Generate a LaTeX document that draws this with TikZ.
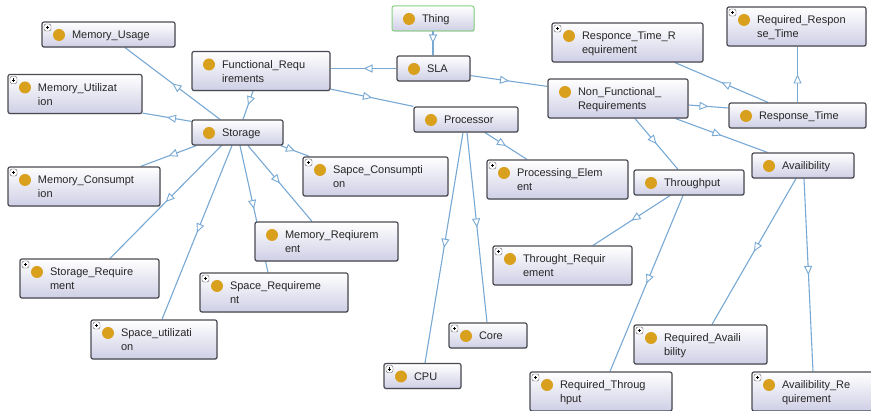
\documentclass[tikz,border=0pt]{standalone}
\usepackage{fontspec}
\setmainfont{Liberation Sans}
\usetikzlibrary{arrows.meta, decorations.markings, backgrounds, shadows}
\definecolor{clsborder}{HTML}{4A4A52}
\definecolor{clsfill}{HTML}{CFCFE6}
\definecolor{clsdot}{HTML}{D9A01E}
\definecolor{clstext}{HTML}{262626}
\definecolor{isablue}{HTML}{78A9D4}
\definecolor{thinggreen}{HTML}{86D182}
\newcommand\clsfont{\fontsize{11}{14}\selectfont}
\newcommand\drawdot{\fill[clsdot] ([xshift=17pt,yshift=-13pt]path picture bounding box.north west) circle[radius=6pt];}
\newcommand\drawplus{
		\draw[line width=0.4pt, draw=gray!70!black, fill=white] ([xshift=2pt,yshift=-2pt]path picture bounding box.north west) rectangle +(7pt,-7pt);
		\draw[line width=0.6pt, black] ([xshift=3.8pt,yshift=-5.5pt]path picture bounding box.north west) -- +(3.4pt,0pt);
		\draw[line width=0.6pt, black] ([xshift=5.5pt,yshift=-3.8pt]path picture bounding box.north west) -- +(0pt,-3.4pt);
		}
\tikzset{owlcls/.style={draw=clsborder, line width=1.2pt, rounded corners=2pt, top color=white, bottom color=clsfill,
		drop shadow={shadow xshift=0.7pt, shadow yshift=-0.9pt, opacity=0.25},
		inner xsep=0pt, inner ysep=5.5pt, minimum height=25pt, align=left, font=\clsfont, text=clstext,
		execute at begin node={\leftskip=30pt\relax\rule{0pt}{11.4pt}},
		execute at end node={\rule[-2.6pt]{0pt}{2.6pt}},
		path picture={\drawdot}}}
\tikzset{owlplus/.style={owlcls, path picture={\drawdot\drawplus}}}
\tikzset{thingcls/.style={draw=thinggreen, line width=1pt}}
\tikzset{isa/.style={isablue, line width=1.1pt, postaction={decorate},
		decoration={markings, mark=at position 0.5 with {\arrow{Triangle[length=9pt, width=8pt, fill=white, line width=0.9pt]}}}}}
\newcommand\isaarr[2]{\draw[isa] (#1) -- (#2);}

\begin{document}
\begin{tikzpicture}[x=1pt, y=-1pt]
			\useasboundingbox (0,0) rectangle (871,411);
			% classes
			\node[owlcls, thingcls, text width=82pt] (thing) at (433,18.5) {Thing};
			\node[owlcls, text width=73pt] (sla) at (433.5,68.5) {SLA};
			\node[owlcls, text width=138pt] (fr) at (261,71) {Functional\_Requ\\irements};
			\node[owlcls, text width=140pt] (nfr) at (618,98.5) {Non\_Functional\_\\Requirements};
			\node[owlcls, text width=91pt] (st) at (237.5,132.5) {Storage};
			\node[owlcls, text width=104pt] (pr) at (466,119.5) {Processor};
			\node[owlcls, text width=137pt] (rt) at (797.5,115.5) {Response\_Time};
			\node[owlcls, text width=110pt] (tp) at (689,182.5) {Throughput};
			\node[owlcls, text width=102pt] (av) at (803,165.5) {Availibility};
			\node[owlcls, text width=143pt] (mrq) at (326.5,241.5) {Memory\_Reqiurem\\ent};
			% leaves
			\node[owlplus, text width=133pt] (mus) at (108.5,34.5) {Memory\_Usage};
			\node[owlplus, text width=134pt] (mut) at (75,94) {Memory\_Utilizat\\ion};
			\node[owlplus, text width=152pt] (mco) at (84,186.5) {Memory\_Consumpt\\ion};
			\node[owlplus, text width=145pt] (sco) at (375.5,176.5) {Sapce\_Consumpti\\on};
			\node[owlplus, text width=139pt] (srq) at (89.5,278.5) {Storage\_Require\\ment};
			\node[owlplus, text width=148pt] (spr) at (274,292.5) {Space\_Requireme\\nt};
			\node[owlplus, text width=126pt] (spu) at (154,339.5) {Space\_utilizati\\on};
			\node[owlplus, text width=141pt] (pe) at (557.5,179.5) {Processing\_Elem\\ent};
			\node[owlplus, text width=77pt] (cpu) at (422.5,376) {CPU};
			\node[owlplus, text width=78pt] (core) at (488,335.5) {Core};
			\node[owlplus, text width=151pt] (rtr) at (627.5,42.5) {Responce\_Time\_R\\equirement};
			\node[owlplus, text width=139pt] (rrt) at (796.5,26.5) {Required\_Respon\\se\_Time};
			\node[owlplus, text width=139pt] (ttr) at (562.5,265.5) {Throught\_Requir\\ement};
			\node[owlplus, text width=142pt] (rtp) at (601,391.5) {Required\_Throug\\hput};
			\node[owlplus, text width=133pt] (rav) at (700.5,344.5) {Required\_Availi\\bility};
			\node[owlplus, text width=128pt] (avr) at (816,391.5) {Availibility\_Re\\quirement};
			% is-a links, behind the boxes
			\begin{scope}[on background layer]
				\fill[white] (0,0) rectangle (871,411);
				\isaarr{thing.south}{thing.south |- sla.north}
				\isaarr{sla.west}{sla.west -| fr.east}
				\isaarr{[yshift=6pt]sla.south east}{[yshift=-8pt]nfr.north west}
				\isaarr{[xshift=-8pt]fr.south}{[xshift=5.5pt]st.north}
				\isaarr{[yshift=2pt]fr.south east}{pr.north west}
				\isaarr{[xshift=-17.5pt]st.north}{[xshift=16.5pt]mus.south}
				\isaarr{[yshift=-2pt]st.north west}{[yshift=1pt]mut.south east}
				\isaarr{[xshift=5pt]st.south west}{[xshift=-20pt]mco.north east}
				\isaarr{[xshift=30pt]st.south west}{[xshift=20.5pt]srq.north}
				\isaarr{[xshift=-5.5pt]st.south}{[xshift=8pt]spu.north}
				\isaarr{[xshift=2.5pt]st.south}{[xshift=-6pt]spr.north}
				\isaarr{[xshift=10.5pt]st.south}{[xshift=-14.5pt]mrq.north}
				\isaarr{[xshift=-3pt]st.south east}{[xshift=7pt]sco.north west}
				\isaarr{[xshift=19pt]pr.south}{[xshift=-30.5pt]pe.north}
				\isaarr{[xshift=-3pt]pr.south}{[xshift=2.5pt]cpu.north}
				\isaarr{[xshift=1pt]pr.south}{[xshift=-1pt]core.north}
				\isaarr{[yshift=-6.5pt]nfr.east}{[yshift=7.5pt]rt.west}
				\isaarr{[xshift=-13pt]nfr.south east}{[xshift=16pt]av.north west}
				\isaarr{[xshift=17pt]nfr.south}{[xshift=-11pt]tp.north}
				\isaarr{[xshift=-29.5pt]rt.north}{[xshift=47.5pt]rtr.south}
				\isaarr{rt.north}{rt.north |- rrt.south}
				\isaarr{[xshift=-19pt]tp.south}{[xshift=30.5pt]ttr.north}
				\isaarr{[xshift=-6pt]tp.south}{[xshift=9pt]rtp.north}
				\isaarr{[xshift=-7pt]av.south}{[xshift=11.5pt]rav.north}
				\isaarr{[xshift=1pt]av.south}{[xshift=-3pt]avr.north}
			\end{scope}
		\end{tikzpicture}
\end{document}
